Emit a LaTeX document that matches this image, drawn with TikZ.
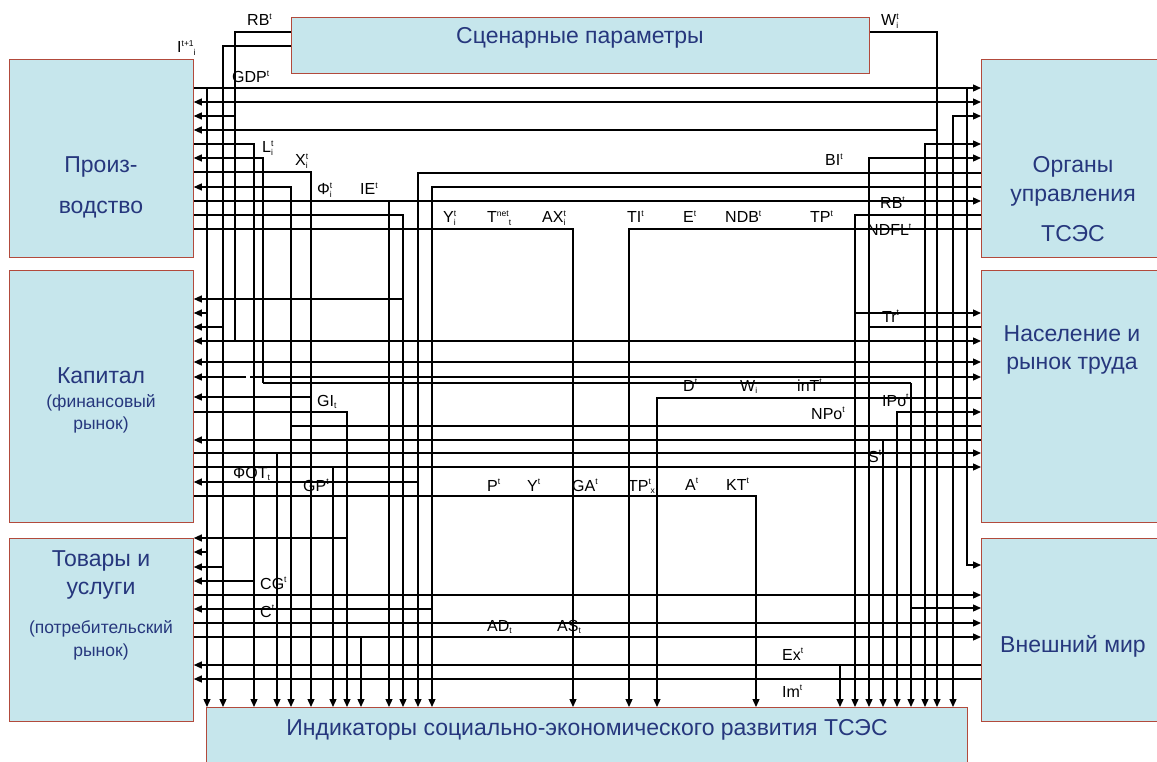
\documentclass[tikz,border=0pt]{standalone}
\usepackage{fontspec}
\setmainfont{Liberation Sans}
\usetikzlibrary{arrows.meta}

\definecolor{boxfill}{RGB}{198,230,236}
\definecolor{boxline}{RGB}{178,74,60}
\definecolor{boxtext}{RGB}{38,55,125}

% indices of the flow names
\newcommand{\up}[1]{\raisebox{0.75ex}{\fontsize{8.5}{9}\selectfont #1}}
\newcommand{\dn}[1]{\raisebox{-0.35ex}{\fontsize{8.5}{9}\selectfont #1}}
\newcommand{\ud}[2]{\rlap{\up{#1}}\dn{#2}}

\tikzset{
  box/.style={draw=boxline, fill=boxfill, line width=0.8pt, inner sep=0pt, anchor=north west},
  boxtxt/.style={text=boxtext, font=\fontsize{23}{27}\selectfont, inner sep=0pt, anchor=base},
  boxsub/.style={text=boxtext, font=\fontsize{17.5}{21}\selectfont, inner sep=0pt, anchor=base},
  var/.style={font=\fontsize{16}{18}\selectfont, anchor=base west, inner sep=0pt},
  flow/.style={line width=1.3pt},
  arr/.style={flow, -{Triangle[length=8pt,width=7pt]}},
  arrs/.style={flow, {Triangle[length=8pt,width=7pt]}-{Triangle[length=8pt,width=7pt]}},
}

\begin{document}
\begin{tikzpicture}[x=1pt, y=-1pt]
  \useasboundingbox (0,0) rectangle (1157,762);
  \fill[white] (0,0) rectangle (1157,762);

  % Blocks of the model
  \node[box, minimum width=578pt, minimum height=56pt]  (scen)  at (291,17)  {};
  \node[box, minimum width=184pt, minimum height=198pt] (prod)  at (9,59)    {};
  \node[box, minimum width=178pt, minimum height=198pt] (org)   at (981,59)  {};
  \node[box, minimum width=184pt, minimum height=252pt] (cap)   at (9,270)   {};
  \node[box, minimum width=178pt, minimum height=252pt] (pop)   at (981,270) {};
  \node[box, minimum width=184pt, minimum height=183pt] (goods) at (9,538)   {};
  \node[box, minimum width=178pt, minimum height=183pt] (world) at (981,538) {};
  \node[box, minimum width=761pt, minimum height=62pt]  (ind)   at (206,707) {};

  % Block titles
  \node[boxtxt] (tScen)  at (580,44)  {Сценарные параметры};
  \node[boxtxt] (tProdA) at (101,173) {Произ-};
  \node[boxtxt] (tProdB) at (101,214) {водство};
  \node[boxtxt] (tOrgA)  at (1073,173) {Органы};
  \node[boxtxt] (tOrgB)  at (1073,202) {управления};
  \node[boxtxt] (tOrgC)  at (1073,242) {ТСЭС};
  \node[boxtxt] (tCapA)  at (101,383) {Капитал};
  \node[boxsub] (tCapB)  at (101,407) {(финансовый};
  \node[boxsub] (tCapC)  at (101,429) {рынок)};
  \node[boxtxt] (tPopA)  at (1072,341) {Население и};
  \node[boxtxt] (tPopB)  at (1072,369) {рынок труда};
  \node[boxtxt] (tGdsA)  at (101,566) {Товары и};
  \node[boxtxt] (tGdsB)  at (101,594) {услуги};
  \node[boxsub] (tGdsC)  at (101,633) {(потребительский};
  \node[boxsub] (tGdsD)  at (101,656) {рынок)};
  \node[boxtxt] (tWorld) at (1073,652) {Внешний мир};
  \node[boxtxt] (tInd)   at (587,735) {Индикаторы социально-экономического развития ТСЭС};

  % Scenario parameters
  \draw[flow] (scen.west|-0,32) -- (235,32) -- (235,341);
  \draw[arr] (235,116) -- (prod.east|-0,116);
  \draw[arr] (scen.west|-0,46) -- (223,46) -- (223,0|-ind.north);
  \draw[arr] (223,327) -- (cap.east|-0,327);
  \draw[arr] (223,567) -- (goods.east|-0,567);
  \draw[arr] (scen.east|-0,32) -- (937,32) -- (937,0|-ind.north);
  \draw[arr] (937,130) -- (prod.east|-0,130);

  % Production and government flows
  \draw[arr] (prod.east|-0,88) -- (org.west|-0,88);
  \draw[arr] (207,88) -- (207,0|-ind.north);
  \draw[arr] (207,313) -- (cap.east|-0,313);
  \draw[arr] (207,552) -- (goods.east|-0,552);
  \draw[arr] (967,88) |- (world.west|-0,565);
  \draw[arrs] (prod.east|-0,102) -- (org.west|-0,102);
  \draw[arrs] (org.west|-0,116) -| (953,0|-ind.north);
  \draw[arr] (prod.east|-0,144) -| (254,0|-ind.north);
  \draw[arr] (254,581) -- (goods.east|-0,581);
  \draw[arrs] (org.west|-0,144) -| (925,0|-ind.north);
  \draw[arr] (263,383) |- (prod.east|-0,158);
  \draw[arrs] (org.west|-0,158) -| (869,0|-ind.north);
  \draw[flow] (869,327) -- (pop.west|-0,327);
  \draw[arr] (prod.east|-0,172) -| (311,0|-ind.north);
  \draw[arr] (311,397) -- (cap.east|-0,397);
  \draw[arr] (org.west|-0,173) -| (418,0|-ind.north);
  \draw[arr] (418,482) -- (cap.east|-0,482);
  \draw[arrs] (prod.east|-0,187) -| (291,0|-ind.north);
  \draw[flow] (291,426) -- (pop.west|-0,426);
  \draw[arr] (org.west|-0,187) -| (432,0|-ind.north);
  \draw[arr] (432,609) -- (goods.east|-0,609);
  \draw[arr] (prod.east|-0,201) -- (org.west|-0,201);
  \draw[arr] (389,201) -- (389,0|-ind.north);
  \draw[arr] (prod.east|-0,215) -| (403,0|-ind.north);
  \draw[arr] (403,299) -- (cap.east|-0,299);
  \draw[arr] (org.west|-0,215) -| (855,0|-ind.north);
  \draw[arr] (855,313) -- (pop.west|-0,313);
  \draw[arr] (prod.east|-0,229) -| (573,0|-ind.north);
  \draw[arr] (org.west|-0,229) -| (629,0|-ind.north);

  % Capital and population flows
  \draw[arrs] (cap.east|-0,341) -- (pop.west|-0,341);
  \draw[arrs] (cap.east|-0,362) -- (pop.west|-0,362);
  \draw[arr] (246,377) -- (cap.east|-0,377);
  \draw[arr] (250,377) -- (pop.west|-0,377);
  \draw[flow] (263,383) -- (911,383);
  \draw[arr] (911,383) -- (911,0|-ind.north);
  \draw[arr] (911,608) -- (world.west|-0,608);
  \draw[arr] (pop.west|-0,398) -| (657,0|-ind.north);
  \draw[arr] (cap.east|-0,412) -| (347,0|-ind.north);
  \draw[arr] (347,538) -- (goods.east|-0,538);
  \draw[arrs] (pop.west|-0,412) -| (897,0|-ind.north);
  \draw[arr] (pop.west|-0,440) -- (cap.east|-0,440);
  \draw[arr] (883,440) -- (883,0|-ind.north);
  \draw[arr] (cap.east|-0,453) -- (pop.west|-0,453);
  \draw[arr] (277,453) -- (277,0|-ind.north);
  \draw[arr] (cap.east|-0,467) -- (pop.west|-0,467);
  \draw[arr] (333,467) -- (333,0|-ind.north);
  \draw[arr] (cap.east|-0,496) -| (756,0|-ind.north);

  % Goods and external world flows
  \draw[arr] (goods.east|-0,595) -- (world.west|-0,595);
  \draw[arr] (goods.east|-0,623) -- (world.west|-0,623);
  \draw[arr] (goods.east|-0,637) -- (world.west|-0,637);
  \draw[arr] (361,637) -- (361,0|-ind.north);
  \draw[arr] (world.west|-0,665) -- (goods.east|-0,665);
  \draw[arr] (840,665) -- (840,0|-ind.north);
  \draw[arr] (world.west|-0,679) -- (goods.east|-0,679);

  % Flow names
  \node[var] (vRBa)   at (247,26)  {RB\up{t}};
  \node[var] (vI)     at (177,53)  {I\up{t+1}\dn{i}};
  \node[var] (vGDP)   at (232,83)  {GDP\up{t}};
  \node[var] (vWa)    at (881,26)  {W\ud{t}{i}};
  \node[var] (vL)     at (262,153) {L\ud{t}{i}};
  \node[var] (vX)     at (295,166) {X\ud{t}{i}};
  \node[var] (vPhi)   at (317,195) {Φ\ud{t}{i}};
  \node[var] (vIE)    at (360,195) {IE\up{t}};
  \node[var] (vYa)    at (443,223) {Y\ud{t}{i}};
  \node[var] (vTnet)  at (487,223) {T\up{net}\dn{t}};
  \node[var] (vAX)    at (542,223) {AX\ud{t}{i}};
  \node[var] (vTI)    at (627,223) {TI\up{t}};
  \node[var] (vE)     at (683,223) {E\up{t}};
  \node[var] (vNDB)   at (725,223) {NDB\up{t}};
  \node[var] (vTPa)   at (810,223) {TP\up{t}};
  \node[var] (vBI)    at (825,166) {BI\up{t}};
  \node[var] (vRBb)   at (880,209) {RB\up{t}};
  \node[var] (vNDFL)  at (867,236) {NDFL\up{t}};
  \node[var] (vTr)    at (882,322) {Tr\up{t}};
  \node[var] (vD)     at (683,391) {D\up{t}};
  \node[var] (vWb)    at (740,391) {W\dn{i}};
  \node[var] (vinT)   at (797,391) {inT\up{t}};
  \node[var] (vIPo)   at (882,406) {IPo\up{t}};
  \node[var] (vNPo)   at (811,419) {NPo\up{t}};
  \node[var] (vS)     at (868,462) {S\up{t}};
  \node[var] (vGI)    at (317,406) {GI\dn{t}};
  \node[var] (vFOT)   at (233,478) {ФОТ\dn{t}};
  \node[var] (vGP)    at (303,491) {GP\up{t}};
  \node[var] (vP)     at (487,491) {P\up{t}};
  \node[var] (vYb)    at (527,491) {Y\up{t}};
  \node[var] (vGA)    at (572,491) {GA\up{t}};
  \node[var] (vTPb)   at (628,491) {TP\up{t}\kern-0.5pt\dn{x}};
  \node[var] (vA)     at (685,490) {A\up{t}};
  \node[var] (vKT)    at (726,490) {KT\up{t}};
  \node[var] (vCG)    at (260,589) {CG\up{t}};
  \node[var] (vC)     at (260,617) {C\up{t}};
  \node[var] (vAD)    at (487,631) {AD\dn{t}};
  \node[var] (vAS)    at (557,631) {AS\dn{t}};
  \node[var] (vEx)    at (782,660) {Ex\up{t}};
  \node[var] (vIm)    at (782,697) {Im\up{t}};
\end{tikzpicture}
\end{document}
